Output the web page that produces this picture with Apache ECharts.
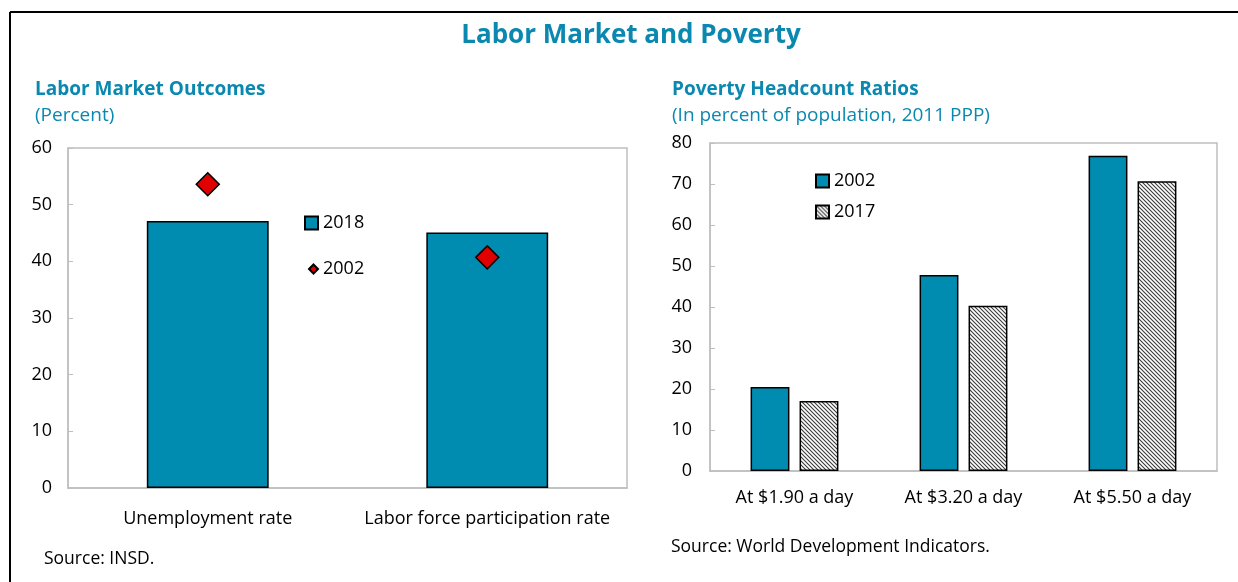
<!DOCTYPE html>
<html>
<head>
<meta charset="utf-8">
<script src="https://cdn.jsdelivr.net/npm/echarts@6/dist/echarts.min.js"></script>
<style>
html,body{margin:0;padding:0;background:#fff;}
#chart{width:1238px;height:582px;}
</style>
</head>
<body>
<div id="chart"></div>
<script>
// ---- Data ----
const laborCategories = ['Unemployment rate', 'Labor force participation rate'];
const labor2018 = [47.1, 45.1];
const labor2002 = [53.6, 40.7];
const laborTicks = [0, 10, 20, 30, 40, 50, 60];

const povertyCategories = ['At $1.90 a day', 'At $3.20 a day', 'At $5.50 a day'];
const poverty2002 = [20.5, 47.8, 76.9];
const poverty2017 = [17.1, 40.3, 70.7];
const povertyTicks = [0, 10, 20, 30, 40, 50, 60, 70, 80];

// ---- Styles ----
const FONT = '"Open Sans", "Noto Sans", sans-serif';
const TEAL = '#008bb0';
const TITLE = '#0a88b0';
const AXIS = '#bfbfbf';

function hatchCanvas() {
  const c = document.createElement('canvas');
  c.width = 4; c.height = 4;
  const ctx = c.getContext('2d');
  ctx.fillStyle = '#ffffff';
  ctx.fillRect(0, 0, 4, 4);
  ctx.strokeStyle = '#3a3a3a';
  ctx.lineWidth = 1.1;
  ctx.beginPath();
  ctx.moveTo(-1, -1); ctx.lineTo(5, 5);
  ctx.moveTo(-1, 3); ctx.lineTo(1, 5);
  ctx.moveTo(3, -1); ctx.lineTo(5, 1);
  ctx.stroke();
  return c;
}
const hatch = { image: hatchCanvas(), repeat: 'repeat' };

const labelStyle = { color: '#000', fontFamily: FONT, fontSize: 18 };

const chart = echarts.init(document.getElementById('chart'), null, { renderer: 'canvas' });

chart.setOption({
  animation: false,
  backgroundColor: '#fff',
  textStyle: { fontFamily: FONT },
  title: [
    { text: 'Labor Market and Poverty', left: 626, textAlign: 'center', top: 18,
      textStyle: { color: TITLE, fontSize: 26, fontWeight: 'bold', fontFamily: FONT } },
    { text: 'Labor Market Outcomes', left: 30, top: 75,
      textStyle: { color: TITLE, fontSize: 19, fontWeight: 'bold', fontFamily: FONT } },
    { text: '(Percent)', left: 30, top: 101,
      textStyle: { color: TITLE, fontSize: 19, fontWeight: 'normal', fontFamily: FONT } },
    { text: 'Poverty Headcount Ratios', left: 667, top: 75,
      textStyle: { color: TITLE, fontSize: 19, fontWeight: 'bold', fontFamily: FONT } },
    { text: '(In percent of population, 2011 PPP)', left: 667, top: 101,
      textStyle: { color: TITLE, fontSize: 19, fontWeight: 'normal', fontFamily: FONT } }
  ],
  legend: [
    { data: ['L2018'], left: 299, top: 209, icon: 'rect', itemWidth: 13, itemHeight: 13, itemGap: 6,
      formatter: n => n.slice(1), textStyle: labelStyle, selectedMode: false },
    { data: ['L2002'], left: 303, top: 255, icon: 'diamond', itemWidth: 9, itemHeight: 9,
      formatter: n => n.slice(1), textStyle: labelStyle, selectedMode: false },
    { data: ['R2002', 'R2017'], left: 810, top: 167, orient: 'vertical', icon: 'rect',
      itemWidth: 13, itemHeight: 13, itemGap: 13,
      formatter: n => n.slice(1), textStyle: labelStyle, selectedMode: false }
  ],
  grid: [
    { left: 68, right: 611, top: 148, bottom: 94, show: true, borderColor: AXIS, borderWidth: 1.5 },
    { left: 710, right: 21, top: 143, bottom: 111, show: true, borderColor: AXIS, borderWidth: 1.5 }
  ],
  xAxis: [
    { type: 'category', gridIndex: 0, data: laborCategories,
      axisLine: { lineStyle: { color: AXIS, width: 1.5 } },
      axisTick: { inside: true, length: 5, lineStyle: { color: AXIS } },
      axisLabel: { ...labelStyle, margin: 22, interval: 0 } },
    { type: 'category', gridIndex: 1, data: povertyCategories,
      axisLine: { lineStyle: { color: AXIS, width: 1.5 } },
      axisTick: { inside: true, length: 5, lineStyle: { color: AXIS } },
      axisLabel: { ...labelStyle, margin: 18, interval: 0 } }
  ],
  yAxis: [
    { type: 'value', gridIndex: 0, min: laborTicks[0], max: laborTicks[laborTicks.length - 1], interval: 10,
      splitLine: { show: false },
      axisLine: { show: true, lineStyle: { color: AXIS, width: 1.5 } },
      axisTick: { show: true, inside: true, length: 5, lineStyle: { color: AXIS } },
      axisLabel: { ...labelStyle, margin: 16 } },
    { type: 'value', gridIndex: 1, min: povertyTicks[0], max: povertyTicks[povertyTicks.length - 1], interval: 10,
      splitLine: { show: false },
      axisLine: { show: true, lineStyle: { color: AXIS, width: 1.5 } },
      axisTick: { show: true, inside: true, length: 5, lineStyle: { color: AXIS } },
      axisLabel: { ...labelStyle, margin: 18 } }
  ],
  series: [
    { name: 'L2018', type: 'bar', xAxisIndex: 0, yAxisIndex: 0, data: labor2018, barWidth: '43.6%',
      itemStyle: { color: TEAL, borderColor: '#000', borderWidth: 1.5 } },
    { name: 'L2002', type: 'scatter', xAxisIndex: 0, yAxisIndex: 0, data: labor2002,
      symbol: 'diamond', symbolSize: 23, z: 5,
      itemStyle: { color: '#e00000', borderColor: '#000', borderWidth: 1.5, opacity: 1 } },
    { name: 'R2002', type: 'bar', xAxisIndex: 1, yAxisIndex: 1, data: poverty2002,
      barWidth: '23%', barGap: '26%',
      itemStyle: { color: TEAL, borderColor: '#000', borderWidth: 1.5 } },
    { name: 'R2017', type: 'bar', xAxisIndex: 1, yAxisIndex: 1, data: poverty2017,
      barWidth: '23%', barGap: '26%',
      itemStyle: { color: hatch, borderColor: '#000', borderWidth: 1.5 } }
  ],
  graphic: [
    { type: 'line', shape: { x1: 10, y1: 12, x2: 1238, y2: 12 }, style: { stroke: '#000', lineWidth: 2 } },
    { type: 'line', shape: { x1: 10, y1: 12, x2: 10, y2: 582 }, style: { stroke: '#000', lineWidth: 2 } },
    { type: 'text', left: 44, top: 550, style: { text: 'Source: INSD.', fill: '#000', font: '17.5px ' + FONT } },
    { type: 'text', left: 671, top: 538, style: { text: 'Source: World Development Indicators.', fill: '#000', font: '17.5px ' + FONT } }
  ]
});
</script>
</body>
</html>
